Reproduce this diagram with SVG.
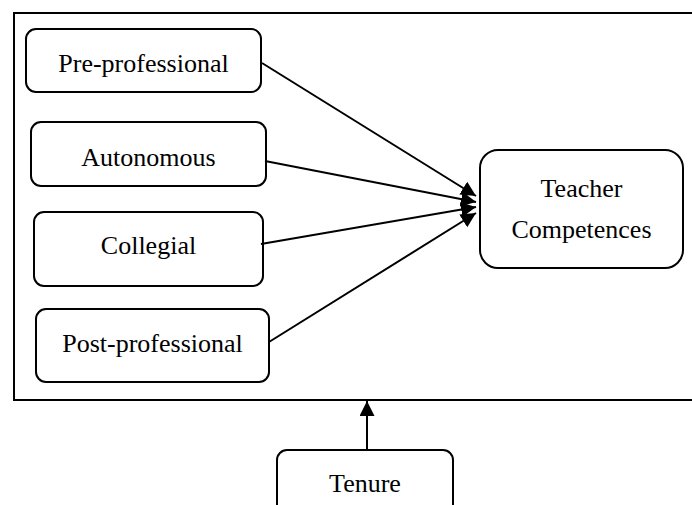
<svg xmlns="http://www.w3.org/2000/svg" width="692" height="505" viewBox="0 0 692 505">
<style>
.box{fill:#fff;stroke:#000;stroke-width:2}
.lbl{font-family:"Liberation Serif","Times New Roman",serif;font-size:26px;fill:#000;text-anchor:middle}
.edge{stroke:#000;stroke-width:2;fill:none}
</style>
<defs>
<marker id="ah" markerUnits="userSpaceOnUse" markerWidth="16" markerHeight="16" refX="15" refY="7.5" orient="auto">
<path d="M0,0 L15,7.5 L0,15 Z" fill="#000"/>
</marker>
</defs>
<rect x="0" y="0" width="692" height="505" fill="#fff"/>
<path d="M693,13 L14,13 L14,400 L693,400" class="edge"/>
<g id="pre"><rect class="box" x="26" y="29" width="235" height="63" rx="10"/><text class="lbl" x="143.5" y="72">Pre-professional</text></g>
<g id="auto"><rect class="box" x="31" y="122" width="235" height="64" rx="10"/><text class="lbl" x="148.5" y="166">Autonomous</text></g>
<g id="coll"><rect class="box" x="34" y="212" width="229" height="74" rx="10"/><text class="lbl" x="148.5" y="254">Collegial</text></g>
<g id="post"><rect class="box" x="36" y="309" width="233" height="73" rx="10"/><text class="lbl" x="152.5" y="352">Post-professional</text></g>
<g id="tc"><rect class="box" x="480" y="150" width="203" height="118" rx="18"/><text class="lbl" x="581.5" y="197">Teacher</text><text class="lbl" x="581.5" y="238">Competences</text></g>
<g id="tenure"><rect class="box" x="277" y="450" width="176" height="70" rx="10"/><text class="lbl" x="365" y="492">Tenure</text></g>
<g id="connectors">
<line class="edge" x1="262" y1="63" x2="476" y2="196" marker-end="url(#ah)"/>
<line class="edge" x1="265" y1="161" x2="476" y2="202" marker-end="url(#ah)"/>
<line class="edge" x1="261" y1="244" x2="476" y2="207" marker-end="url(#ah)"/>
<line class="edge" x1="269" y1="342" x2="476" y2="213" marker-end="url(#ah)"/>
<line class="edge" x1="367" y1="450" x2="367" y2="401" marker-end="url(#ah)"/>
</g>
</svg>
